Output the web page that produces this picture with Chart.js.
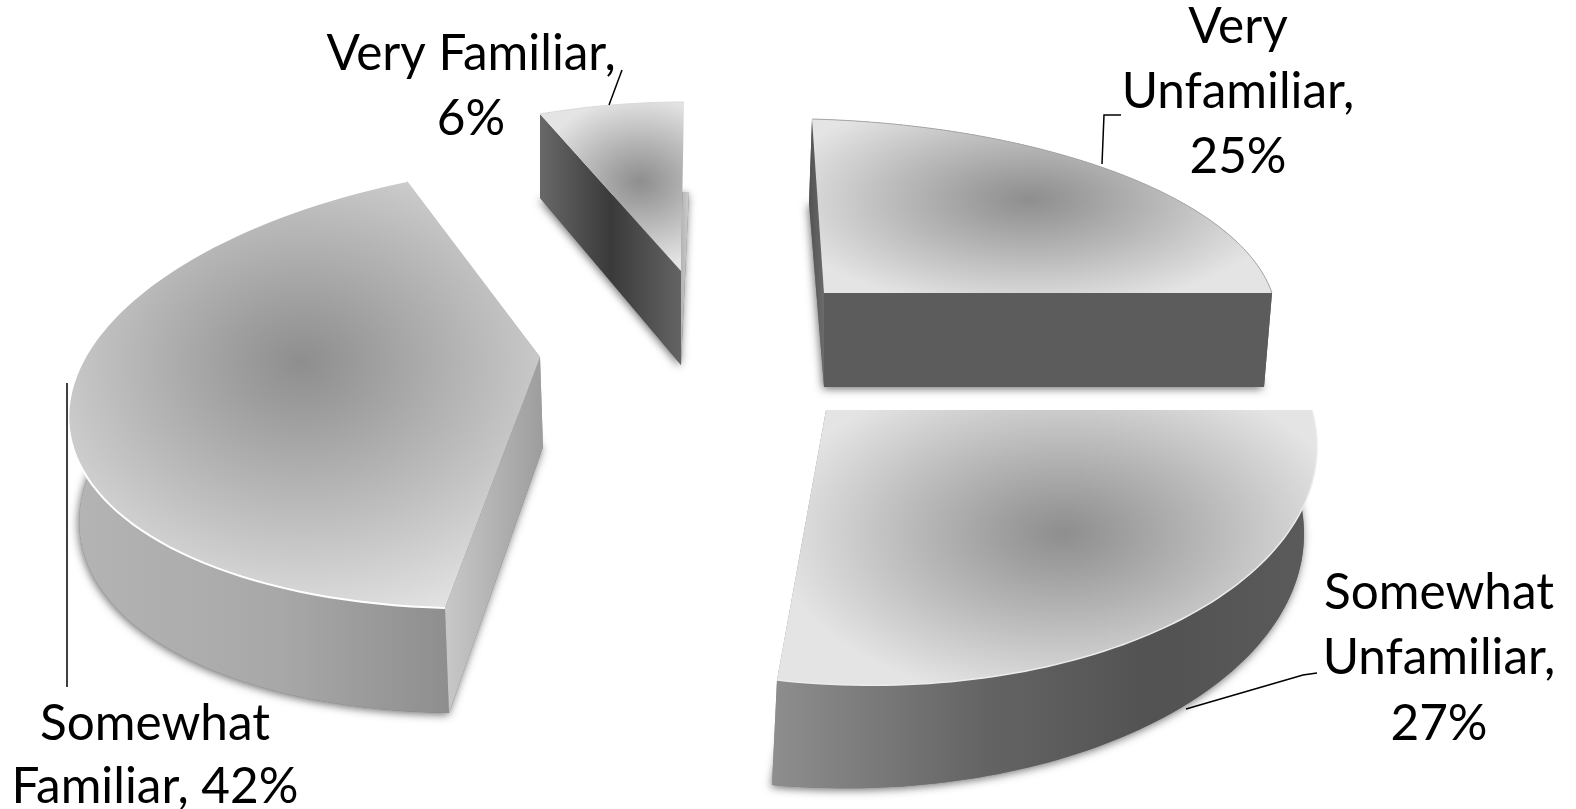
<!DOCTYPE html>
<html>
<head>
<meta charset="utf-8">
<title>Familiarity pie</title>
<script src="https://cdn.jsdelivr.net/npm/chart.js@4/dist/chart.umd.min.js"></script>
<style>
  html, body { margin: 0; padding: 0; background: #fff; }
  canvas { display: block; }
</style>
</head>
<body>
<canvas id="pie" width="1576" height="809"></canvas>
<script>
const categories = ['Very Unfamiliar', 'Somewhat Unfamiliar', 'Somewhat Familiar', 'Very Familiar'];
const percents = [25, 27, 42, 6];
const wordsPerLine = [[1, 1, 1], [1, 1, 1], [1, 2], [2, 1]];

// each slice is exploded and seen through its own view of the pie disc.
// a view is calibrated by where disc angles (clockwise from 12 o'clock) land on the page
const views = [
  {
    center: [824, 293], centerLow: [824, 387],
    degs: [0, 45, 90],
    rim: [[812, 119], [1115, 172], [1272, 293]],
    rimLow: [[809, 203], [1111, 262], [1264, 387]],
    glow: { x: 1030, y: 199, rx: 255, ry: 112 },
    edge: '#a8a8a8', edgeWidth: 1,
    startFace: [805, 826, ['#4c4c4c', '#6e6e6e']],
    endFace: [824, 1270, ['#5c5c5c', '#5c5c5c']],
    wall: [824, 1270, ['#5c5c5c', '#5c5c5c']]
  },
  {
    center: [826, 410], centerLow: [826, 503],
    degs: [90, 138.6, 187.2],
    rim: [[1312, 410], [1182, 619], [777, 680]],
    rimLow: [[1300, 500], [1172, 713], [772, 785]],
    glow: { x: 1063, y: 533, rx: 290, ry: 170 },
    edge: '#ececec', edgeWidth: 1.5,
    startFace: [772, 1300, ['#8e8e8e', '#646464', '#525252', '#5a5a5a'], [0, 0.4, 0.72, 1]],
    endFace: [772, 1300, ['#8e8e8e', '#646464', '#525252', '#5a5a5a'], [0, 0.4, 0.72, 1]],
    wall: [772, 1300, ['#8e8e8e', '#646464', '#525252', '#5a5a5a'], [0, 0.4, 0.72, 1]]
  },
  {
    center: [540, 357], centerLow: [543, 447],
    degs: [187.2, 262.8, 338.4],
    rim: [[445, 608], [69, 405], [407, 181]],
    rimLow: [[449, 713], [80, 508], [410, 270]],
    glow: { x: 302, y: 362, rx: 345, ry: 275 },
    edge: '#ffffff', edgeWidth: 2,
    startFace: [445, 545, ['#c8c8c8', '#9c9c9c']],
    endFace: [445, 545, ['#c8c8c8', '#9c9c9c']],
    wall: [70, 450, ['#b4b4b4', '#a8a8a8', '#8e8e8e'], [0, 0.55, 1]]
  },
  {
    center: [681, 271], centerLow: [681, 365],
    degs: [338.4, 349.2, 360],
    rim: [[540, 114], [612, 105], [684, 102]],
    rimLow: [[540, 198], [615, 195], [689, 192]],
    glow: { x: 640, y: 182, rx: 105, ry: 85 },
    edge: '#d8d8d8', edgeWidth: 1,
    startFace: [540, 682, ['#686868', '#3a3a3a', '#646464'], [0, 0.5, 1]],
    endFace: [680, 690, ['#b0b0b0', '#d0d0d0']],
    wall: null,
    endFaceFromLow: true
  }
];

// text blocks, baselines in page pixels
const labelBlocks = [
  { x: 1238, baselines: [43, 108, 173] },
  { x: 1439, baselines: [609, 674, 740] },
  { x: 155, baselines: [740, 803] },
  { x: 471, baselines: [70, 135] }
];
const leaders = [
  [[1121, 115], [1104, 115], [1102, 164]],
  [[1317, 673], [1303, 675], [1186, 709]],
  [[67, 383], [67, 687]],
  [[622, 70], [609, 105]]
];

function solveLinear(m, v) {
  const n = v.length;
  const a = m.map(function(row, i) { return row.concat(v[i]); });
  for (let c = 0; c < n; c++) {
    let p = c;
    for (let r = c + 1; r < n; r++) {
      if (Math.abs(a[r][c]) > Math.abs(a[p][c])) p = r;
    }
    const t = a[c]; a[c] = a[p]; a[p] = t;
    for (let r = 0; r < n; r++) {
      if (r === c) continue;
      const f = a[r][c] / a[c][c];
      for (let k = c; k <= n; k++) a[r][k] -= f * a[c][k];
    }
  }
  return a.map(function(row, i) { return row[n] / row[i]; });
}

// projective map of the unit disc with the disc centre held on 'center'
function makeProjection(center, degs, rim) {
  const m = [], v = [];
  degs.forEach(function(d, i) {
    const x = Math.sin(d * Math.PI / 180), y = Math.cos(d * Math.PI / 180);
    const dx = rim[i][0] - center[0], dy = rim[i][1] - center[1];
    m.push([x, y, 0, 0, -dx * x, -dx * y]); v.push(dx);
    m.push([0, 0, x, y, -dy * x, -dy * y]); v.push(dy);
  });
  const s = solveLinear(m, v);
  return function(theta) {
    const x = Math.sin(theta), y = Math.cos(theta);
    const w = 1 + s[4] * x + s[5] * y;
    return [center[0] + (s[0] * x + s[1] * y) / w, center[1] + (s[2] * x + s[3] * y) / w];
  };
}

function tracePolygon(ctx, pts) {
  ctx.beginPath();
  pts.forEach(function(p, i) {
    if (i === 0) ctx.moveTo(p[0], p[1]); else ctx.lineTo(p[0], p[1]);
  });
  ctx.closePath();
}

function sideFill(ctx, spec) {
  const g = ctx.createLinearGradient(spec[0], 0, spec[1], 0);
  spec[2].forEach(function(c, i) {
    g.addColorStop(spec[3] ? spec[3][i] : i / (spec[2].length - 1), c);
  });
  return g;
}

function drawSlice(ctx, arc, view) {
  // library angles start at 3 o'clock, the disc angles at 12
  const a0 = arc.startAngle + Math.PI / 2, a1 = arc.endAngle + Math.PI / 2;
  const top = makeProjection(view.center, view.degs, view.rim);
  const low = makeProjection(view.centerLow, view.degs, view.rimLow);
  const topArc = [], lowArc = [];
  for (let i = 0; i <= 80; i++) {
    const t = a0 + (a1 - a0) * i / 80;
    topArc.push(top(t));
    lowArc.push(low(t));
  }
  const last = topArc.length - 1;
  const startFace = [view.center, topArc[0], lowArc[0], view.centerLow];
  let endFace = [view.center, topArc[last], lowArc[last], view.centerLow];
  if (view.endFaceFromLow) {
    // only the part below the far corner shows past the top surface
    const k = (lowArc[last][1] - view.center[1]) / (topArc[last][1] - view.center[1]);
    const cut = [view.center[0] + (topArc[last][0] - view.center[0]) * k, lowArc[last][1]];
    endFace = [view.center, cut, lowArc[last], view.centerLow];
  }

  // soft drop shadow comes from the bottom disc only, the top edge stays clean
  ctx.save();
  ctx.shadowColor = 'rgba(0,0,0,0.55)';
  ctx.shadowBlur = 9;
  ctx.shadowOffsetX = -1;
  ctx.shadowOffsetY = 2;
  ctx.fillStyle = '#777';
  tracePolygon(ctx, [view.centerLow].concat(lowArc));
  ctx.fill();
  ctx.restore();

  if (view.wall) {
    tracePolygon(ctx, topArc.concat(lowArc.slice().reverse()));
    ctx.fillStyle = sideFill(ctx, view.wall);
    ctx.fill();
  }
  tracePolygon(ctx, endFace);
  ctx.fillStyle = sideFill(ctx, view.endFace);
  ctx.fill();
  tracePolygon(ctx, startFace);
  ctx.fillStyle = sideFill(ctx, view.startFace);
  ctx.fill();

  // top surface with the dark spot in the middle
  const surface = [view.center].concat(topArc);
  ctx.save();
  tracePolygon(ctx, surface);
  ctx.clip();
  ctx.translate(view.glow.x, view.glow.y);
  ctx.scale(view.glow.rx, view.glow.ry);
  const g = ctx.createRadialGradient(0, 0, 0, 0, 0, 1);
  g.addColorStop(0, '#8e8e8e');
  g.addColorStop(0.2, '#9e9e9e');
  g.addColorStop(0.55, '#bcbcbc');
  g.addColorStop(1, '#e4e4e4');
  ctx.fillStyle = g;
  ctx.fillRect(-6, -6, 12, 12);
  ctx.restore();

  ctx.beginPath();
  topArc.forEach(function(p, i) {
    if (i === 0) ctx.moveTo(p[0], p[1]); else ctx.lineTo(p[0], p[1]);
  });
  ctx.strokeStyle = view.edge;
  ctx.lineWidth = view.edgeWidth;
  ctx.stroke();
}

function drawLabels(ctx) {
  ctx.save();
  ctx.fillStyle = '#000';
  ctx.font = '49.5px Lato, Carlito, sans-serif';
  ctx.textAlign = 'center';
  ctx.textBaseline = 'alphabetic';
  categories.forEach(function(name, i) {
    const words = (name + ', ' + percents[i] + '%').split(' ');
    let used = 0;
    wordsPerLine[i].forEach(function(count, line) {
      ctx.fillText(words.slice(used, used + count).join(' '), labelBlocks[i].x, labelBlocks[i].baselines[line]);
      used += count;
    });
  });
  ctx.strokeStyle = '#000';
  ctx.lineWidth = 1.5;
  leaders.forEach(function(pts) {
    ctx.beginPath();
    pts.forEach(function(p, i) {
      if (i === 0) ctx.moveTo(p[0], p[1]); else ctx.lineTo(p[0], p[1]);
    });
    ctx.stroke();
  });
  ctx.restore();
}

const explodedPie = {
  id: 'explodedPie',
  afterDatasetsDraw: function(chart) {
    const ctx = chart.ctx;
    const arcs = chart.getDatasetMeta(0).data;
    // back slices first
    [3, 0, 2, 1].forEach(function(i) {
      drawSlice(ctx, arcs[i], views[i]);
    });
    drawLabels(ctx);
  }
};

new Chart(document.getElementById('pie'), {
  type: 'pie',
  data: {
    labels: categories,
    datasets: [{
      data: percents,
      backgroundColor: 'rgba(0,0,0,0)',
      borderWidth: 0
    }]
  },
  options: {
    responsive: false,
    animation: false,
    rotation: 0,
    plugins: {
      legend: { display: false },
      tooltip: { enabled: false }
    }
  },
  plugins: [explodedPie]
});
</script>
</body>
</html>
